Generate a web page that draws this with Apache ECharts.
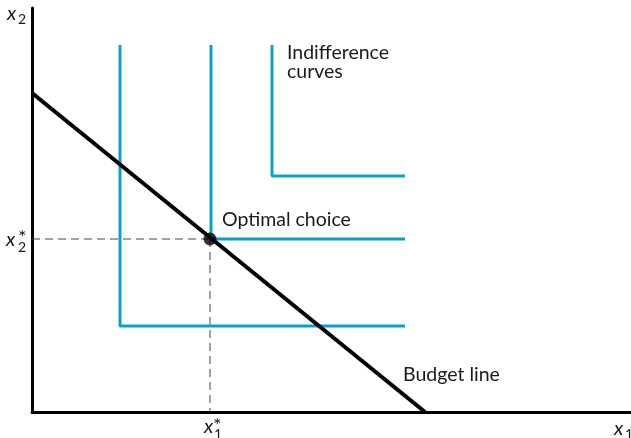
<!DOCTYPE html>
<html><head><meta charset="utf-8">
<script src="https://cdn.jsdelivr.net/npm/echarts@6/dist/echarts.min.js"></script>
<style>html,body{margin:0;padding:0;background:#fff}#c{width:631px;height:438px}</style>
</head><body><div id="c"></div>
<script>
// data (in axis units)
const budgetLine = [[0, 319], [393, 0]];
const curve1 = [[88, 367], [88, 86], [373, 86]];
const curve2 = [[179, 367], [179, 173], [373, 173]];
const curve3 = [[240, 367], [240, 236], [373, 236]];
const optimal = [[178, 173]];
const dashH = [[0, 173], [178, 173]];
const dashV = [[178, 173], [178, 0]];
const labels = { ic1: 'Indifference', ic2: 'curves', opt: 'Optimal choice', budget: 'Budget line' };

const BLUE = '#0aa0cc';
const FONT = 'Lato';
const INK = '#1a1a1a';
const chart = echarts.init(document.getElementById('c'), null, { renderer: 'canvas' });

function blue(d) {
  return { type: 'line', data: d, symbol: 'none', lineStyle: { color: BLUE, width: 3 }, z: 2, silent: true };
}
// place text by its baseline (approximate, top-aligned box)
function txt(s, x, base, size, italic) {
  return { type: 'text', style: { text: s, x: x, y: base - 0.87 * size, font: (italic ? 'italic ' : '') + size + 'px ' + FONT, fill: INK } };
}
chart.setOption({
  animation: false,
  grid: { left: 32, right: 0, top: 8, bottom: 26 },
  xAxis: { type: 'value', min: 0, max: 599, splitLine: { show: false }, axisTick: { show: false }, axisLabel: { show: false },
    axisLine: { onZero: false, lineStyle: { color: '#000', width: 3 } } },
  yAxis: { type: 'value', min: 0, max: 404, splitLine: { show: false }, axisTick: { show: false }, axisLabel: { show: false },
    axisLine: { onZero: false, lineStyle: { color: '#000', width: 3 } } },
  series: [
    { type: 'line', data: dashH, symbol: 'none', lineStyle: { color: '#444', width: 1, type: [8, 5] }, z: 1 },
    { type: 'line', data: dashV, symbol: 'none', lineStyle: { color: '#444', width: 1, type: [8, 5] }, z: 1 },
    blue(curve1), blue(curve2), blue(curve3),
    { type: 'line', data: budgetLine, symbol: 'none', lineStyle: { color: '#000', width: 4 }, z: 3 },
    { type: 'scatter', data: optimal, symbol: 'circle', symbolSize: 13, itemStyle: { color: '#000' }, z: 4 }
  ],
  graphic: [
    txt('x', 7, 21, 20, true), txt('2', 18, 25, 14),
    txt('x', 6, 247, 20, true), txt('*', 18, 245, 20), txt('2', 18, 253, 14),
    txt('x', 204, 434, 20, true), txt('*', 213, 433, 20), txt('1', 214, 440, 14),
    txt('x', 614, 436, 20, true), txt('1', 625, 440, 14),
    txt(labels.ic1, 287, 60, 19.5), txt(labels.ic2, 287, 79, 19.5),
    txt(labels.opt, 222, 227, 19.5),
    txt(labels.budget, 403, 382, 19.5)
  ]
});
</script></body></html>
